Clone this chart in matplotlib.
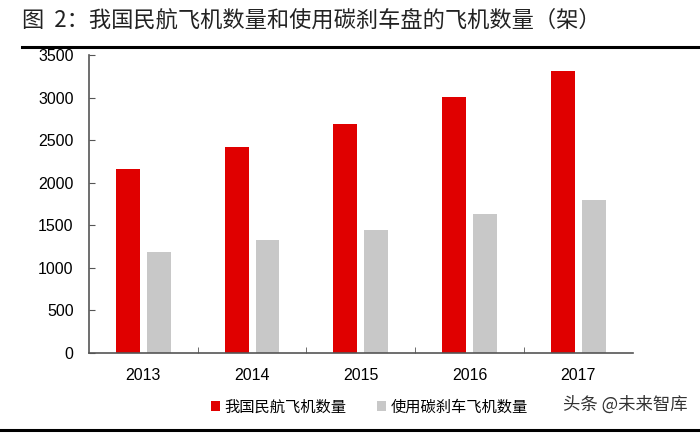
import numpy as np
import matplotlib
matplotlib.use("Agg")
import matplotlib.pyplot as plt
from matplotlib.lines import Line2D

plt.rcParams['font.family'] = ['Liberation Sans', 'Noto Sans CJK SC', 'DejaVu Sans']

years = ['2013', '2014', '2015', '2016', '2017']
civil_planes = [2165, 2425, 2690, 3005, 3315]
carbon_brake_planes = [1185, 1330, 1440, 1635, 1800]
series_names = ['我国民航飞机数量', '使用碳刹车飞机数量']

fig = plt.figure(figsize=(7, 4.34), dpi=100)
ax = fig.add_axes([0.127, 0.187, 0.777, 0.686])

x = np.arange(len(years))
w = 0.22
ax.bar(x - 0.142, civil_planes, w, color='#E00000', label=series_names[0])
ax.bar(x + 0.142, carbon_brake_planes, w, color='#C8C8C8', label=series_names[1])

ax.set_xlim(-0.5, len(years) - 0.5)
ax.set_ylim(0, 3500)
ax.set_yticks(np.arange(0, 3501, 500))
ax.set_xticks(x)
ax.set_xticklabels(years)
ax.set_xticks(np.arange(0.5, len(years) - 0.5, 1), minor=True)
ax.tick_params(axis='x', which='major', length=0, pad=11, labelsize=11.5)
ax.tick_params(axis='x', which='minor', direction='in', length=4, color='#555555')
ax.tick_params(axis='y', direction='in', length=4, color='#555555', labelsize=11.5, pad=11)
for s in ['top', 'right']:
    ax.spines[s].set_visible(False)
for s in ['left', 'bottom']:
    ax.spines[s].set_color('#555555')
    ax.spines[s].set_linewidth(1.2)

fig.text(0.031, 0.953, '图  2：我国民航飞机数量和使用碳刹车盘的飞机数量（架）',
         fontsize=16, va='center', ha='left',
         family=['Noto Sans CJK SC', 'DejaVu Sans'], color='#222222')
fig.add_artist(Line2D([0.031, 1.0], [0.892, 0.892], color='black', lw=2.2))
fig.add_artist(Line2D([0.0, 1.0], [0.009, 0.009], color='black', lw=2.2))

ax.legend(loc='center', bbox_to_anchor=(0.516, -0.182), ncol=2, frameon=False,
          handlelength=0.6, handleheight=0.6, handletextpad=0.3, columnspacing=2.0,
          prop={'family': 'Noto Sans CJK SC', 'size': 11})

fig.text(0.982, 0.068, '头条 @未来智库', fontsize=12.5, ha='right', va='center',
         family=['Noto Sans CJK SC', 'DejaVu Sans'], color='#333333')

fig.savefig('out.png', dpi=100)
